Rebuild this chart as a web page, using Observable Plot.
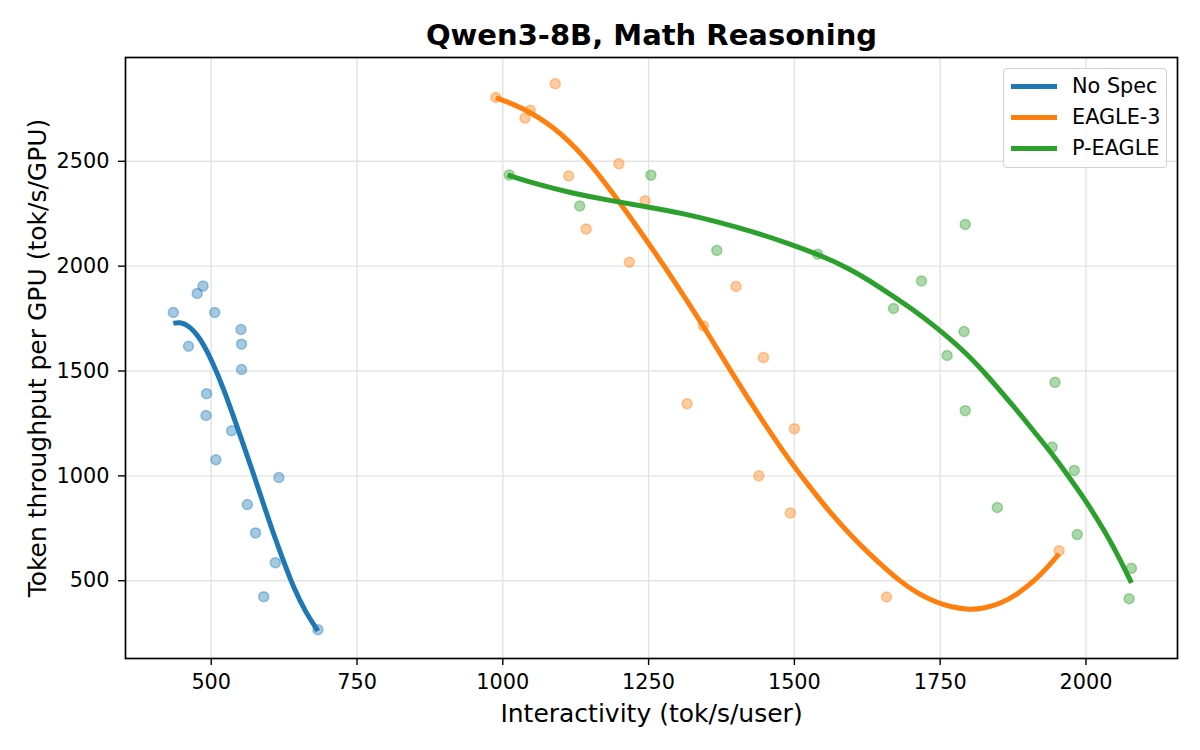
<!DOCTYPE html>
<html>
<head>
<meta charset="utf-8">
<script src="https://cdn.jsdelivr.net/npm/d3@7"></script>
<script src="https://cdn.jsdelivr.net/npm/@observablehq/plot@0.6"></script>
<style>
  html, body { margin: 0; padding: 0; background: #fff; }
  #wrap { position: relative; width: 1200px; height: 750px; font-family: "DejaVu Sans", sans-serif; }
  #legend { position: absolute; left: 1003px; top: 68px; width: 162px; height: 98px;
    border: 1.3px solid #d0d0d0; border-radius: 4px; background: rgba(255,255,255,0.85); }
  .row { position: absolute; left: 0; height: 31px; display: flex; align-items: center; }
  .swatch { width: 46px; height: 5px; margin-left: 7px; margin-right: 15px; }
  .lab { font-size: 20.8px; color: #000; white-space: nowrap; }
</style>
</head>
<body>
<div id="wrap"></div>
<script>
// ---- Data ----
const title = "Qwen3-8B, Math Reasoning";
const xLabel = "Interactivity (tok/s/user)";
const yLabel = "Token throughput per GPU (tok/s/GPU)";
const seriesNames = ["No Spec", "EAGLE-3", "P-EAGLE"];
const seriesColors = ["#1f77b4", "#ff7f0e", "#2ca02c"];
const xTicks = [500, 750, 1000, 1250, 1500, 1750, 2000];
const yTicks = [500, 1000, 1500, 2000, 2500];

// scatter observations
const noSpecX = [486, 476, 435, 506, 551, 552, 461, 552, 492, 491, 535, 508, 616, 562, 576, 610, 590, 683];
const noSpecY = [1905, 1870, 1779, 1779, 1698, 1628, 1618, 1507, 1392, 1288, 1215, 1077, 992, 863, 728, 586, 424, 266];

const eagle3X = [988, 1090, 1047, 1038, 1113, 1199, 1244, 1143, 1217, 1400, 1344, 1447, 1316, 1500, 1439, 1493, 1658, 1954];
const eagle3Y = [2804, 2870, 2744, 2706, 2430, 2488, 2312, 2177, 2019, 1903, 1715, 1564, 1344, 1225, 1000, 823, 422, 643];

const pEagleX = [1011, 1254, 1132, 1367, 1540, 1793, 1718, 1670, 1791, 1762, 1947, 1793, 1942, 1980, 1848, 1985, 2078, 2074];
const pEagleY = [2435, 2434, 2287, 2075, 2057, 2199, 1929, 1798, 1688, 1574, 1446, 1311, 1137, 1026, 849, 720, 559, 414];

// fitted trend curves
const noSpecFitX = [435, 446, 462, 482, 502, 522, 539, 556, 573, 590, 607, 625, 642, 662, 683];
const noSpecFitY = [1727, 1734, 1717, 1654, 1545, 1410, 1277, 1142, 1005, 862, 722, 585, 462, 348, 261];

const eagle3FitX = [988, 1036, 1088, 1139, 1190, 1240, 1297, 1345, 1397, 1440, 1482, 1522, 1563, 1597, 1626, 1654, 1680, 1711, 1740, 1770, 1800, 1826, 1854, 1883, 1912, 1934, 1954];
const eagle3FitY = [2804, 2754, 2664, 2528, 2345, 2150, 1918, 1710, 1472, 1285, 1110, 962, 819, 715, 635, 563, 500, 439, 400, 373, 361, 369, 391, 436, 500, 563, 628];

const pEagleFitX = [1008, 1059, 1116, 1185, 1248, 1311, 1368, 1431, 1488, 1540, 1591, 1648, 1706, 1740, 1791, 1826, 1877, 1906, 1940, 1969, 2000, 2032, 2060, 2078];
const pEagleFitY = [2435, 2390, 2350, 2312, 2283, 2250, 2212, 2163, 2110, 2057, 1994, 1898, 1788, 1716, 1596, 1494, 1328, 1229, 1112, 1003, 880, 738, 594, 490];

// ---- Chart ----
const scatter = [[noSpecX, noSpecY], [eagle3X, eagle3Y], [pEagleX, pEagleY]];
const fits = [[noSpecFitX, noSpecFitY], [eagle3FitX, eagle3FitY], [pEagleFitX, pEagleFitY]];

const seriesMarks = [];
scatter.forEach(([xs, ys], i) => {
  const c = seriesColors[i];
  seriesMarks.push(Plot.dot(xs, {x: xs, y: ys, r: 5, fill: c, fillOpacity: 0.4, stroke: c, strokeOpacity: 0.4, strokeWidth: 1.5}));
  const [fx, fy] = fits[i];
  seriesMarks.push(Plot.line(fx, {x: fx, y: fy, stroke: c, strokeWidth: 5, curve: "basis", strokeLinecap: "butt"}));
});

const chart = Plot.plot({
  width: 1200,
  height: 750,
  marginLeft: 125,
  marginRight: 23,
  marginTop: 57,
  marginBottom: 92,
  style: {fontFamily: "'DejaVu Sans', sans-serif", fontSize: "20.8px", color: "#000", background: "#fff"},
  x: {domain: [353, 2157]},
  y: {domain: [129, 2995]},
  marks: [
    Plot.gridX(xTicks, {stroke: "#e3e3e3", strokeOpacity: 1, strokeWidth: 1.4}),
    Plot.gridY(yTicks, {stroke: "#e3e3e3", strokeOpacity: 1, strokeWidth: 1.4}),
    ...seriesMarks,
    Plot.axisX(xTicks, {tickSize: 7, tickPadding: 9, strokeWidth: 1.4, label: null, fontSize: 20.8, tickFormat: d => String(d)}),
    Plot.axisY(yTicks, {tickSize: 7, tickPadding: 9, strokeWidth: 1.4, label: null, fontSize: 20.8, tickFormat: d => String(d)}),
    Plot.frame({stroke: "#000", strokeWidth: 1.7}),
    Plot.text([title], {text: d => d, frameAnchor: "top", dy: -13, lineAnchor: "bottom", fontSize: 29, fontWeight: "bold"}),
    Plot.text([xLabel], {text: d => d, frameAnchor: "bottom", dy: 63, lineAnchor: "bottom", fontSize: 25}),
    Plot.text([yLabel], {text: d => d, frameAnchor: "left", dx: -80, rotate: -90, textAnchor: "middle", lineAnchor: "bottom", fontSize: 25})
  ]
});

const wrap = document.getElementById("wrap");
wrap.appendChild(chart);

// legend
const legend = document.createElement("div");
legend.id = "legend";
seriesNames.forEach((name, i) => {
  const row = document.createElement("div");
  row.className = "row";
  row.style.top = (1.5 + i * 31) + "px";
  const sw = document.createElement("div");
  sw.className = "swatch";
  sw.style.background = seriesColors[i];
  const lab = document.createElement("span");
  lab.className = "lab";
  lab.textContent = name;
  row.appendChild(sw);
  row.appendChild(lab);
  legend.appendChild(row);
});
wrap.appendChild(legend);
</script>
</body>
</html>
